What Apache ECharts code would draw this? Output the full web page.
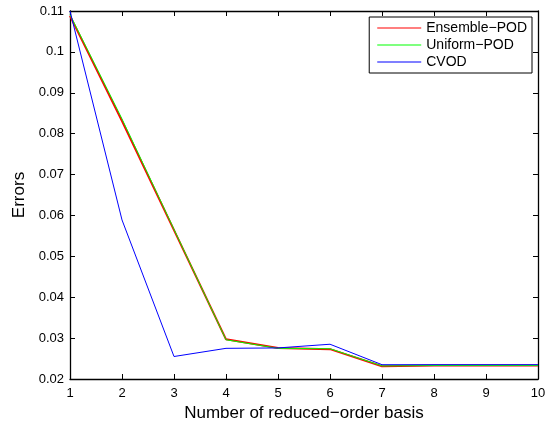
<!DOCTYPE html>
<html>
<head>
<meta charset="utf-8">
<script src="https://cdn.jsdelivr.net/npm/echarts@6/dist/echarts.min.js"></script>
<style>
html,body{margin:0;padding:0;background:#fff;}
#c{width:545px;height:423px;}
</style>
</head>
<body>
<div id="c"></div>
<script>
const basis = [1, 2, 3, 4, 5, 6, 7, 8, 9, 10];
const ensemblePOD = [0.1088, 0.0831, 0.0564, 0.0297, 0.0276, 0.0273, 0.0231, 0.0233, 0.0233, 0.0233];
const uniformPOD  = [0.1091, 0.0836, 0.0566, 0.0296, 0.0275, 0.0274, 0.0232, 0.0233, 0.0233, 0.0233];
const cvod        = [0.1100, 0.0589, 0.0255, 0.0275, 0.0276, 0.0285, 0.0235, 0.0235, 0.0235, 0.0235];
const seriesNames = ['Ensemble\u2212POD', 'Uniform\u2212POD', 'CVOD'];
const seriesColors = ['#ff0000', '#00ff00', '#0000ff'];
const xTitle = 'Number of reduced\u2212order basis';
const yTitle = 'Errors';

const font = 'Liberation Sans, Arial, Helvetica, sans-serif';
const pair = (arr) => basis.map((b, i) => [b, arr[i]]);

const chart = echarts.init(document.getElementById('c'), null, {renderer: 'canvas'});
const axisCommon = {
  axisLine: {show: true, onZero: false, lineStyle: {color: '#000', width: 1.3}},
  axisTick: {show: true, inside: true, length: 5, lineStyle: {color: '#000', width: 1}},
  splitLine: {show: false}
};
chart.setOption({
  animation: false,
  backgroundColor: '#fff',
  grid: {left: 70, right: 7, top: 11, bottom: 44, containLabel: false, outerBoundsMode: 'none'},
  legend: {
    right: 13, top: 17,
    orient: 'vertical',
    backgroundColor: '#fff',
    borderColor: '#000', borderWidth: 1,
    padding: [4, 5, 4, 8],
    itemGap: 3,
    itemWidth: 44, itemHeight: 14,
    textStyle: {fontFamily: font, fontSize: 14, color: '#000'},
    data: seriesNames.map((n, i) => ({
      name: n,
      icon: 'path://M0,6.5 L44,6.5 L44,7.5 L0,7.5 Z',
      itemStyle: {color: seriesColors[i], borderWidth: 0}
    }))
  },
  xAxis: [
    Object.assign({type: 'value', min: 1, max: 10, interval: 1, position: 'bottom',
      name: xTitle, nameLocation: 'middle', nameGap: 23,
      nameTextStyle: {fontFamily: font, fontSize: 17, color: '#000'},
      axisLabel: {fontFamily: font, fontSize: 13, color: '#000', margin: 8}}, axisCommon),
    Object.assign({type: 'value', min: 1, max: 10, interval: 1, position: 'top',
      axisLabel: {show: false}}, axisCommon)
  ],
  yAxis: [
    Object.assign({type: 'value', min: 0.02, max: 0.11, interval: 0.01, position: 'left',
      name: yTitle, nameLocation: 'middle', nameGap: 40,
      nameTextStyle: {fontFamily: font, fontSize: 17, color: '#000'},
      axisLabel: {fontFamily: font, fontSize: 13, color: '#000', margin: 6,
        formatter: (v) => String(parseFloat(v.toFixed(2)))}}, axisCommon),
    Object.assign({type: 'value', min: 0.02, max: 0.11, interval: 0.01, position: 'right',
      axisLabel: {show: false}}, axisCommon)
  ],
  series: [
    {name: seriesNames[0], type: 'line', data: pair(ensemblePOD), showSymbol: false, symbol: 'none',
      color: seriesColors[0], lineStyle: {color: seriesColors[0], width: 2}, z: 2},
    {name: seriesNames[1], type: 'line', data: pair(uniformPOD), showSymbol: false, symbol: 'none',
      color: seriesColors[1], lineStyle: {color: seriesColors[1], width: 1}, z: 3},
    {name: seriesNames[2], type: 'line', data: pair(cvod), showSymbol: false, symbol: 'none',
      color: seriesColors[2], lineStyle: {color: seriesColors[2], width: 1}, z: 4}
  ]
});
</script>
</body>
</html>
